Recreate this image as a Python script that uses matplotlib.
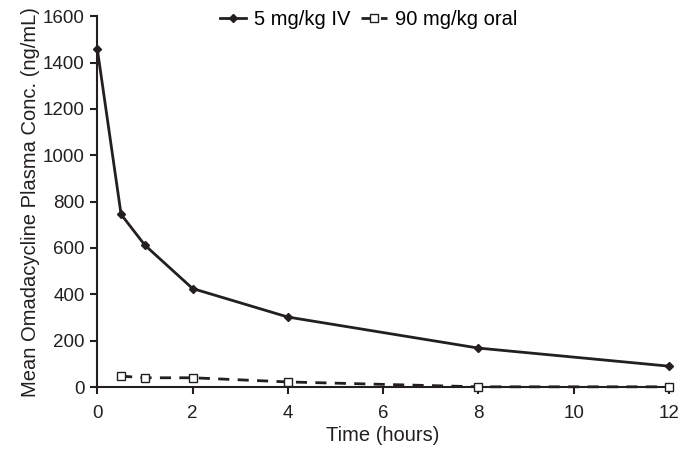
import matplotlib
matplotlib.use('Agg')
import matplotlib.pyplot as plt

plt.rcParams['font.family'] = ['Liberation Sans', 'DejaVu Sans']

# data
time_iv = [0, 0.5, 1, 2, 4, 8, 12]
conc_iv = [1460, 745, 612, 425, 302, 168, 90]
time_oral = [0.5, 1, 2, 4, 8, 12]
conc_oral = [47, 40, 40, 22, 1, 1]

fig, ax = plt.subplots(figsize=(6.8, 4.49), dpi=100)
ax.plot(time_iv, conc_iv, '-', color='#231f20', lw=2, marker='D', ms=4.5,
        label='5 mg/kg IV', clip_on=False, zorder=3)
ax.plot(time_oral, conc_oral, '--', color='#231f20', lw=2, marker='s', ms=6,
        mfc='white', mew=1, dashes=(4, 3), label='90 mg/kg oral', clip_on=False, zorder=3)

ax.set_xlim(0, 12)
ax.set_ylim(0, 1600)
ax.set_xticks(range(0, 13, 2))
ax.set_yticks(range(0, 1601, 200))
for s in ['top', 'right']:
    ax.spines[s].set_visible(False)
for s in ['left', 'bottom']:
    ax.spines[s].set_linewidth(1.5)
    ax.spines[s].set_color('#231f20')
ax.tick_params(direction='out', length=5, width=1.5, labelsize=13.5, colors='#231f20')
ax.tick_params(axis='x', pad=8)
ax.tick_params(axis='y', pad=4)
ax.set_xlabel('Time (hours)', fontsize=14.5, color='#231f20', labelpad=3)
ax.set_ylabel('Mean Omadacycline Plasma Conc. (ng/mL)', fontsize=14.5, color='#231f20', labelpad=2)

ax.legend(loc='upper center', bbox_to_anchor=(0.475, 1.065), ncol=2, frameon=False,
          fontsize=14.5, handlelength=1.3, columnspacing=0.5, handletextpad=0.4)

plt.subplots_adjust(left=0.143, right=0.984, top=0.964, bottom=0.138)
plt.savefig('out.png', dpi=100, facecolor='white')
